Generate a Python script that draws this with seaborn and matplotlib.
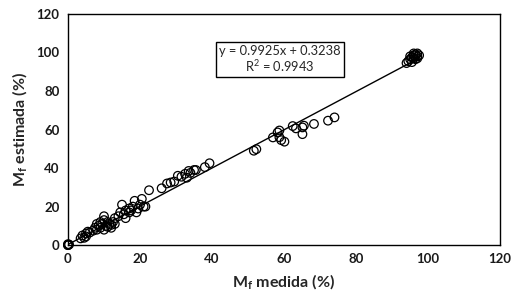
import matplotlib
matplotlib.use("Agg")
import matplotlib.pyplot as plt
import seaborn as sns
import numpy as np
import pandas as pd

x_medida = [0, 0, 0, 0.3,
            3.5, 4, 4.5, 5, 5, 5.5, 6, 7, 7.5, 8, 8, 8.5, 9, 9, 9.5, 10, 10, 10,
            10.5, 11, 11, 11.5, 12, 12, 12.5, 13, 13, 14, 14.5, 15, 15.5, 16, 16,
            17, 17, 17.5, 18, 18.5, 19, 19.5, 20, 20.5, 21, 21.5, 22.5,
            26, 27.5, 28.5, 29.5, 30.5, 31.5, 32.5, 33, 33.5, 34, 35, 35.5, 38, 39.3,
            51.6, 52.3, 56.9, 58.2, 58.7, 58.7, 59.2, 60.1, 62.4, 63.3, 65.1, 65.1,
            65.5, 68.3, 72.2, 74,
            94, 94.5, 95, 95.5, 96, 96, 96.5, 97, 97, 97.5, 95.5, 96.5, 97, 95, 96]
y_estimada = [0, 0.5, 0, 0.3,
              3.5, 5, 3.8, 6, 4.5, 7, 6.5, 7.5, 9, 8, 11, 10, 12, 9, 11, 8, 13, 15,
              10, 12, 9.5, 11, 9, 10.5, 12, 11, 14, 15, 17, 21, 16, 14, 18,
              17, 19, 18, 20, 23, 17, 19, 21, 24, 20, 20, 28.5,
              29.5, 32, 32.5, 33, 36, 35.5, 37, 35, 38.5, 37.5, 39, 39, 40.5, 42.5,
              49, 49.8, 55.9, 58.5, 59.5, 56, 54.5, 53.7, 61.8, 60.6, 61.1, 57.6,
              62, 62.9, 64.6, 66.3,
              94.5, 95.5, 96.5, 97.5, 98.5, 97, 99, 98, 99.5, 98.5, 95, 96.5, 97, 98, 99.5]

slope = 0.9925
intercept = 0.3238
r2 = 0.9943
x_ticks = [0, 20, 40, 60, 80, 100, 120]
y_ticks = [0, 20, 40, 60, 80, 100, 120]

sns.set_theme(style="white")
plt.rcParams['font.family'] = ['Lato', 'DejaVu Sans']
plt.rcParams['mathtext.fontset'] = 'custom'
plt.rcParams['mathtext.rm'] = 'Lato'
plt.rcParams['mathtext.bf'] = 'Lato:bold'

df = pd.DataFrame({"x": x_medida, "y": y_estimada})

fig = plt.figure(figsize=(5.21, 3.03), dpi=100)
ax = fig.add_axes([0.1305, 0.191, 0.8295, 0.763])

line_x = np.array([0, max(x_medida)])
line_df = pd.DataFrame({"x": line_x, "y": slope * line_x + intercept})
sns.lineplot(data=line_df, x="x", y="y", ax=ax, color="black", linewidth=1.0, zorder=2)

sns.scatterplot(data=df, x="x", y="y", ax=ax, marker="o", s=38,
                facecolors="none", edgecolor="black", linewidth=0.9, zorder=3,
                clip_on=False)

ax.set_xlim(0, 120)
ax.set_ylim(0, 120)
ax.set_xticks(x_ticks)
ax.set_yticks(y_ticks)
ax.tick_params(length=0, labelsize=9.5, pad=6, colors="#1a1a1a")
for lab in ax.get_xticklabels() + ax.get_yticklabels():
    lab.set_fontweight("bold")
for s in ax.spines.values():
    s.set_color("black")
    s.set_linewidth(1.0)

ax.set_xlabel(r"M$_\mathbf{f}$ medida (%)", fontsize=11.5, fontweight="bold", labelpad=5)
ax.set_ylabel(r"M$_\mathbf{f}$ estimada (%)", fontsize=11.5, fontweight="bold", labelpad=5)

ax.text(58.8, 96.5, f"y = {slope}x + {intercept}\nR$^2$ = {r2}", ha="center", va="center",
        fontsize=9.3, linespacing=1.05, multialignment="center",
        bbox=dict(boxstyle="square,pad=0.25", facecolor="white", edgecolor="black", linewidth=1.0),
        zorder=5)

fig.savefig("out.png", dpi=100)
